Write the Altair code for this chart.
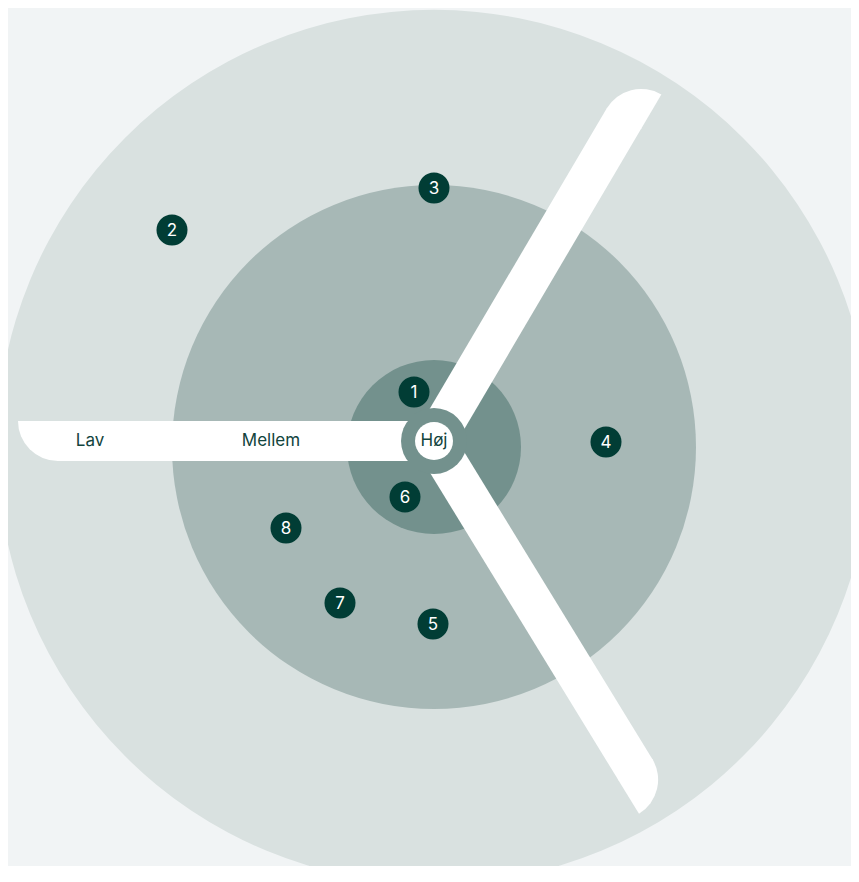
import math
import altair as alt
import pandas as pd

# ---- data ----
ring_names = ["Lav", "Mellem", "Høj"]
ring_radius = [437, 262, 87]
ring_colors = ["#d9e1e0", "#a7b8b6", "#73918d"]

label_text = ["Lav", "Mellem", "Høj"]
label_x = [-344, -163, 0]
label_y = [6, 6, 6]

blade_angle = [180, 59.5, -58.5]
blade_length = [416, 414, 425]
hub_x = [0]
hub_y = [6]

point_id = ["1", "2", "3", "4", "5", "6", "7", "8"]
point_x = [-20, -262, 0, 172, -1, -29, -94, -148]
point_y = [55, 217, 259, 5, -177, -50, -156, -81]

W, H = 843, 858
XD = [-426, 417]
YD = [439 - H, 439]

def X(f):
    return alt.X(f, scale=alt.Scale(domain=XD, nice=False, zero=False), axis=None)

def Y(f):
    return alt.Y(f, scale=alt.Scale(domain=YD, nice=False, zero=False), axis=None)

rings = pd.DataFrame({"name": ring_names, "r": ring_radius, "x": 0, "y": 0,
                      "k": list(range(len(ring_names)))})
labels = pd.DataFrame({"text": label_text, "x": label_x, "y": label_y})
blades = pd.DataFrame({"angle": blade_angle, "length": blade_length,
                       "hx": hub_x[0], "hy": hub_y[0]})
hub = pd.DataFrame({"x": hub_x, "y": hub_y})
points = pd.DataFrame({"id": point_id, "x": point_x, "y": point_y})

ring_layer = alt.Chart(rings).transform_calculate(
    sz="4 * datum.r * datum.r"
).mark_circle(opacity=1).encode(
    x=X("x:Q"), y=Y("y:Q"),
    size=alt.Size("sz:Q", scale=None, legend=None),
    color=alt.Color("name:N", scale=alt.Scale(domain=ring_names, range=ring_colors), legend=None),
    order=alt.Order("k:Q"),
)

blade_base = alt.Chart(blades).transform_calculate(
    rad="datum.angle * PI / 180",
).transform_calculate(
    ex="datum.hx + (datum.length - 39) * cos(datum.rad)",
    ey="datum.hy + (datum.length - 39) * sin(datum.rad)",
    cx="datum.hx + (datum.length - 40) * cos(datum.rad) + 20 * sin(datum.rad)",
    cy="datum.hy + (datum.length - 40) * sin(datum.rad) - 20 * cos(datum.rad)",
    t0="((360 - datum.angle) % 360) * PI / 180",
).transform_calculate(
    t1="datum.t0 + PI / 2",
)

blade_rule = blade_base.mark_rule(strokeWidth=40, strokeCap="butt", color="white").encode(
    x=X("hx:Q"), y=Y("hy:Q"), x2="ex:Q", y2="ey:Q",
)

blade_tip = blade_base.mark_arc(radius=40, color="white").encode(
    x=X("cx:Q"), y=Y("cy:Q"),
    theta=alt.Theta("t0:Q", scale=None, stack=False),
    theta2="t1:Q",
)

hub_ring = alt.Chart(hub).mark_circle(size=4 * 33 * 33, opacity=1, color="#73918d").encode(
    x=X("x:Q"), y=Y("y:Q"),
)
hub_white = alt.Chart(hub).mark_circle(size=4 * 19 * 19, opacity=1, color="white").encode(
    x=X("x:Q"), y=Y("y:Q"),
)

label_layer = alt.Chart(labels).mark_text(
    font="Inter", fontSize=17, color="#12443d", align="center", baseline="middle",
).encode(x=X("x:Q"), y=Y("y:Q"), text="text:N")

point_layer = alt.Chart(points).mark_circle(size=961, opacity=1, color="#013d35").encode(
    x=X("x:Q"), y=Y("y:Q"),
)
point_text = alt.Chart(points).mark_text(
    font="Inter", fontSize=17, color="white", align="center", baseline="middle", dy=1,
).encode(x=X("x:Q"), y=Y("y:Q"), text="id:N")

chart = alt.layer(
    ring_layer, blade_rule, blade_tip, hub_ring, hub_white, label_layer, point_layer, point_text
).properties(
    width=W, height=H, padding=0, autosize=alt.AutoSizeParams(type="none"),
).configure(background="#f1f4f5").configure_view(strokeWidth=0)

chart.save("out.html", embed_options={"renderer": "svg", "actions": False})
